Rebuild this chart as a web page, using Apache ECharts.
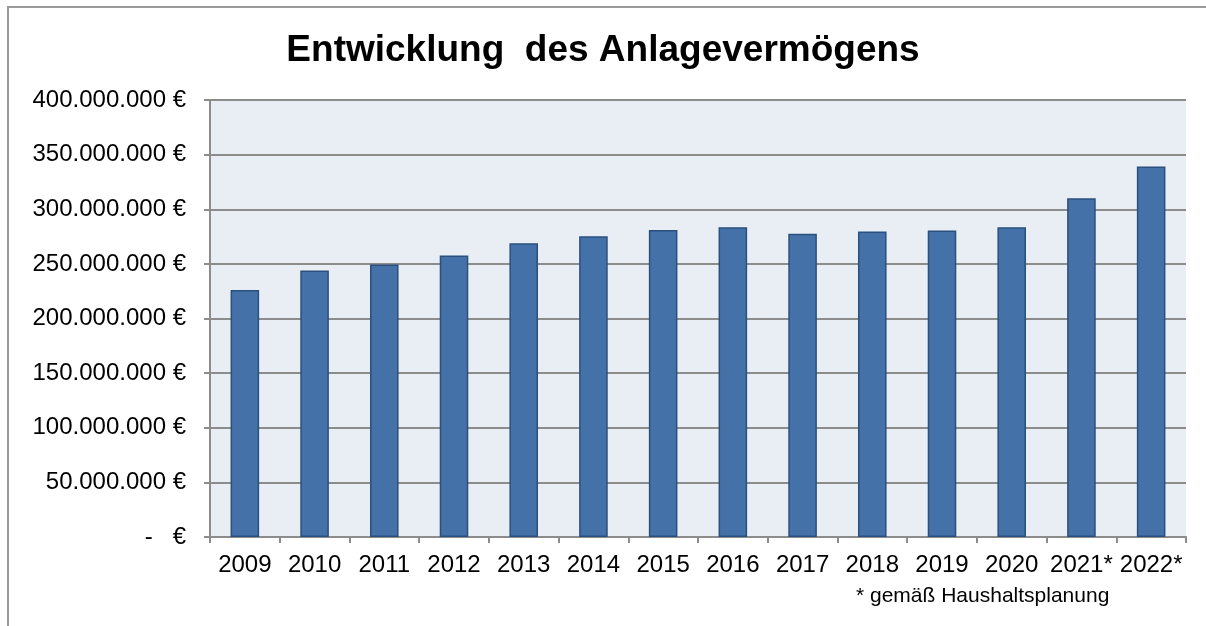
<!DOCTYPE html>
<html>
<head>
<meta charset="utf-8">
<script src="https://cdn.jsdelivr.net/npm/echarts@6/dist/echarts.min.js"></script>
<style>
html,body{margin:0;padding:0;background:#fff;}
#c{width:1206px;height:626px;}
</style>
</head>
<body>
<div id="c"></div>
<script>
const titleText = 'Entwicklung  des Anlagevermögens';
const footnote = '* gemäß Haushaltsplanung';
const categories = ['2009','2010','2011','2012','2013','2014','2015','2016','2017','2018','2019','2020','2021*','2022*'];
const values = [226200000, 243900000, 249400000, 257600000, 268900000, 275300000, 281100000, 283500000, 277500000, 279600000, 280500000, 283500000, 310100000, 339100000];
const yMin = 0, yMax = 400000000, yStep = 50000000;

function fmt(v){
  if (v === 0) return '-   €';
  const s = String(Math.round(v));
  return s.replace(/\B(?=(\d{3})+(?!\d))/g, '.') + ' €';
}

const font = 'Arial, "Liberation Sans", sans-serif';
const chart = echarts.init(document.getElementById('c'));
chart.setOption({
  animation: false,
  backgroundColor: '#fff',
  title: {
    text: titleText, left: 'center', top: 27,
    textStyle: {fontFamily: font, fontSize: 37, fontWeight: 'bold', color: '#000'}
  },
  grid: {
    left: 210, right: 20, top: 100, bottom: 89,
    show: true, backgroundColor: '#e9eef4', borderWidth: 0
  },
  xAxis: {
    type: 'category', data: categories,
    axisLine: {show: true, lineStyle: {color: '#8c8c8c', width: 2}},
    axisTick: {show: true, length: 6, lineStyle: {color: '#8c8c8c', width: 2}},
    axisLabel: {interval: 0, margin: 16, fontFamily: font, fontSize: 24, color: '#000'}
  },
  yAxis: {
    type: 'value', min: yMin, max: yMax, interval: yStep,
    axisLine: {show: true, lineStyle: {color: '#8c8c8c', width: 2}},
    axisTick: {show: true, length: 6, lineStyle: {color: '#8c8c8c', width: 2}},
    splitLine: {show: true, lineStyle: {color: '#8c8c8c', width: 2}},
    axisLabel: {margin: 24, fontFamily: font, fontSize: 24, color: '#000', formatter: fmt}
  },
  series: [{
    type: 'bar', data: values, barWidth: '41%',
    itemStyle: {color: '#4371a8', borderColor: '#2b507e', borderWidth: 1.5}
  }],
  graphic: [
    {type: 'rect', shape: {x: 8, y: 7, width: 1400, height: 800},
     style: {fill: 'none', stroke: '#9a9a9a', lineWidth: 2}, silent: true},
    {type: 'text', left: 856, top: 586,
     style: {text: footnote, fontFamily: font, fontSize: 21, fill: '#000'}}
  ]
});
</script>
</body>
</html>
